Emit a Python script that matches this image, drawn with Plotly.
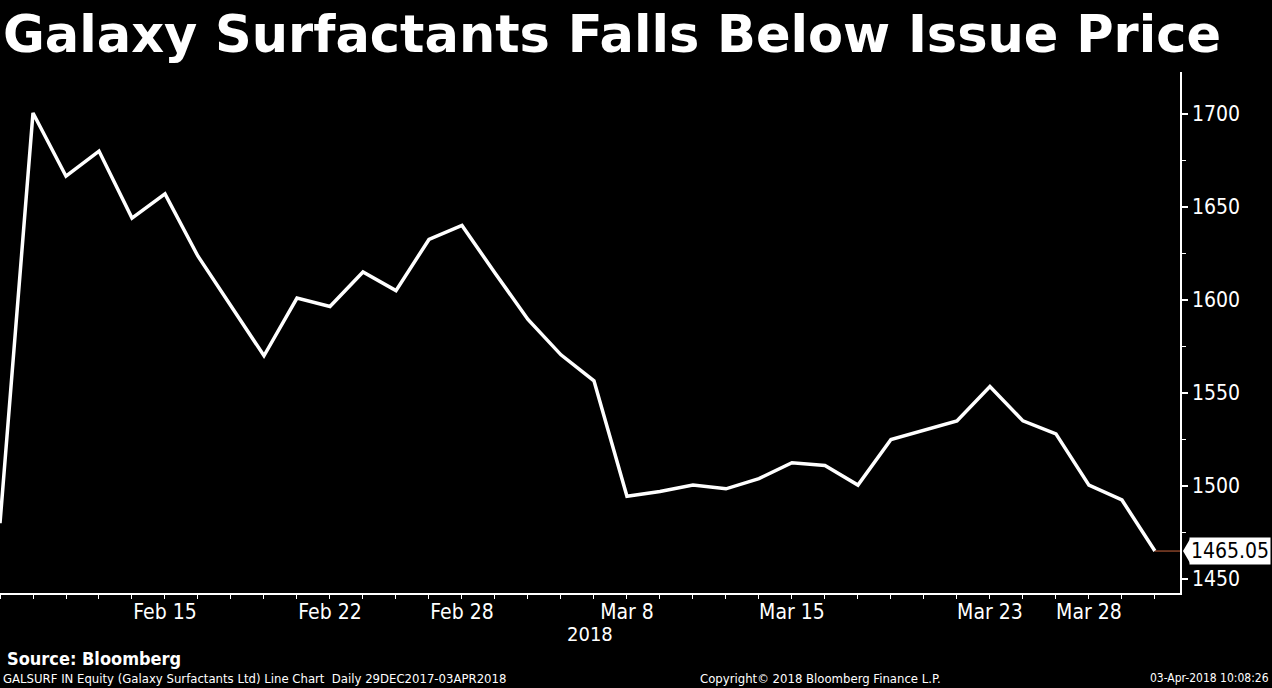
import plotly.graph_objects as go

dates = ["2018-02-07", "2018-02-08", "2018-02-09", "2018-02-12", "2018-02-14", "2018-02-15",
         "2018-02-16", "2018-02-19", "2018-02-20", "2018-02-21", "2018-02-22", "2018-02-23",
         "2018-02-26", "2018-02-27", "2018-02-28", "2018-03-01", "2018-03-05", "2018-03-06",
         "2018-03-07", "2018-03-08", "2018-03-09", "2018-03-12", "2018-03-13", "2018-03-14",
         "2018-03-15", "2018-03-16", "2018-03-19", "2018-03-20", "2018-03-21", "2018-03-22",
         "2018-03-23", "2018-03-26", "2018-03-27", "2018-03-28", "2018-04-02", "2018-04-03"]
prices = [1480, 1700.5, 1666.5, 1680, 1644, 1657, 1623.5, 1597, 1570, 1601, 1596.5, 1615,
          1605, 1632.5, 1640, 1614.5, 1589.5, 1570.5, 1556.5, 1494.5, 1497, 1500.5, 1498.5,
          1504, 1512.5, 1511, 1500.5, 1525, 1530, 1535, 1553.5, 1535, 1528, 1500.5, 1492.5,
          1465.05]
tick_labels = {"2018-02-15": "Feb 15", "2018-02-22": "Feb 22", "2018-02-28": "Feb 28",
               "2018-03-08": "Mar 8", "2018-03-15": "Mar 15", "2018-03-23": "Mar 23",
               "2018-03-28": "Mar 28"}
y_ticks = [1450, 1500, 1550, 1600, 1650, 1700]

title_text = "Galaxy Surfactants Falls Below Issue Price"
year_text = "2018"
source_text = "Source: Bloomberg"
footer_left = "GALSURF IN Equity (Galaxy Surfactants Ltd) Line Chart  Daily 29DEC2017-03APR2018"
footer_mid = "Copyright\u00a9 2018 Bloomberg Finance L.P."
footer_right = "03-Apr-2018 10:08:26"

last_val = prices[-1]
last_date = dates[-1]

TICKFONT = "DejaVu Sans Condensed"

fig = go.Figure()
fig.add_trace(go.Scatter(x=dates, y=prices, mode="lines",
                         line=dict(color="white", width=3.5), hoverinfo="skip"))

fig.update_layout(
    width=1272, height=688,
    paper_bgcolor="black", plot_bgcolor="black",
    margin=dict(l=0, r=92, t=72, b=95),
    showlegend=False,
    xaxis=dict(
        type="category",
        categoryorder="array", categoryarray=dates,
        range=[0, 35.76],
        tickmode="array", tickvals=dates,
        ticktext=[tick_labels.get(d, "") for d in dates],
        ticks="outside", ticklen=4, tickwidth=1, tickcolor="white",
        ticklabelstandoff=-5,
        showline=True, linecolor="white", linewidth=1.5,
        showgrid=False, zeroline=False,
        tickfont=dict(family=TICKFONT, size=21, color="white"),
    ),
    yaxis=dict(
        side="right",
        range=[1442.5, 1722.5],
        tickmode="array", tickvals=y_ticks,
        ticks="outside", ticklen=6, tickwidth=2, tickcolor="white",
        minor=dict(dtick=25, tick0=1425, ticks="outside", ticklen=4, tickcolor="white", tickwidth=1),
        showline=True, linecolor="white", linewidth=1.5,
        showgrid=False, zeroline=False,
        tickfont=dict(family=TICKFONT, size=21, color="white"),
    ),
    font=dict(family=TICKFONT, color="white"),
)

# horizontal last-value line to axis
fig.add_shape(type="line", xref="x", yref="y", x0=35, x1=35.76, y0=last_val, y1=last_val,
              line=dict(color="#c8643c", width=1))
# arrow tip of last-value tag
fig.add_shape(type="path", xref="paper", yref="y", xsizemode="pixel", ysizemode="pixel",
              xanchor=1, yanchor=last_val,
              path="M 3,0 L 10,12 L 10,-12 Z",
              fillcolor="white", line=dict(width=0))
fig.add_annotation(xref="paper", yref="y", x=1, y=last_val, xanchor="left", yanchor="middle",
                   xshift=9, text=f"{last_val:.2f}", showarrow=False,
                   bgcolor="white", borderpad=1,
                   font=dict(family=TICKFONT, size=21, color="black"))

fig.add_annotation(xref="paper", yref="paper", x=0.0, y=1, yshift=69, xanchor="left", yanchor="top",
                   xshift=1, text=f"<b>{title_text}</b>", showarrow=False,
                   font=dict(family="DejaVu Sans", size=51, color="white"))
fig.add_annotation(xref="paper", yref="paper", x=590 / 1180, y=0, yshift=-27, xanchor="center",
                   yanchor="top", text=year_text, showarrow=False,
                   font=dict(family=TICKFONT, size=20, color="white"))
fig.add_annotation(xref="paper", yref="paper", x=0, y=0, yshift=-53, xshift=5, xanchor="left",
                   yanchor="top", text=f"<b>{source_text}</b>", showarrow=False,
                   font=dict(family=TICKFONT, size=18, color="white"))
fig.add_annotation(xref="paper", yref="paper", x=0, y=0, yshift=-76, xshift=1, xanchor="left",
                   yanchor="top", text=footer_left, showarrow=False,
                   font=dict(family=TICKFONT, size=13, color="white"))
fig.add_annotation(xref="paper", yref="paper", x=820 / 1180, y=0, yshift=-76, xanchor="center",
                   yanchor="top", text=footer_mid, showarrow=False,
                   font=dict(family=TICKFONT, size=13, color="white"))
fig.add_annotation(xref="paper", yref="paper", x=1, y=0, yshift=-76, xshift=91, xanchor="right",
                   yanchor="top", text=footer_right, showarrow=False,
                   font=dict(family=TICKFONT, size=12, color="white"))

fig.write_html("out.html", config={"displayModeBar": False},
               post_script="document.body.style.margin='0px';document.body.style.background='black';")
